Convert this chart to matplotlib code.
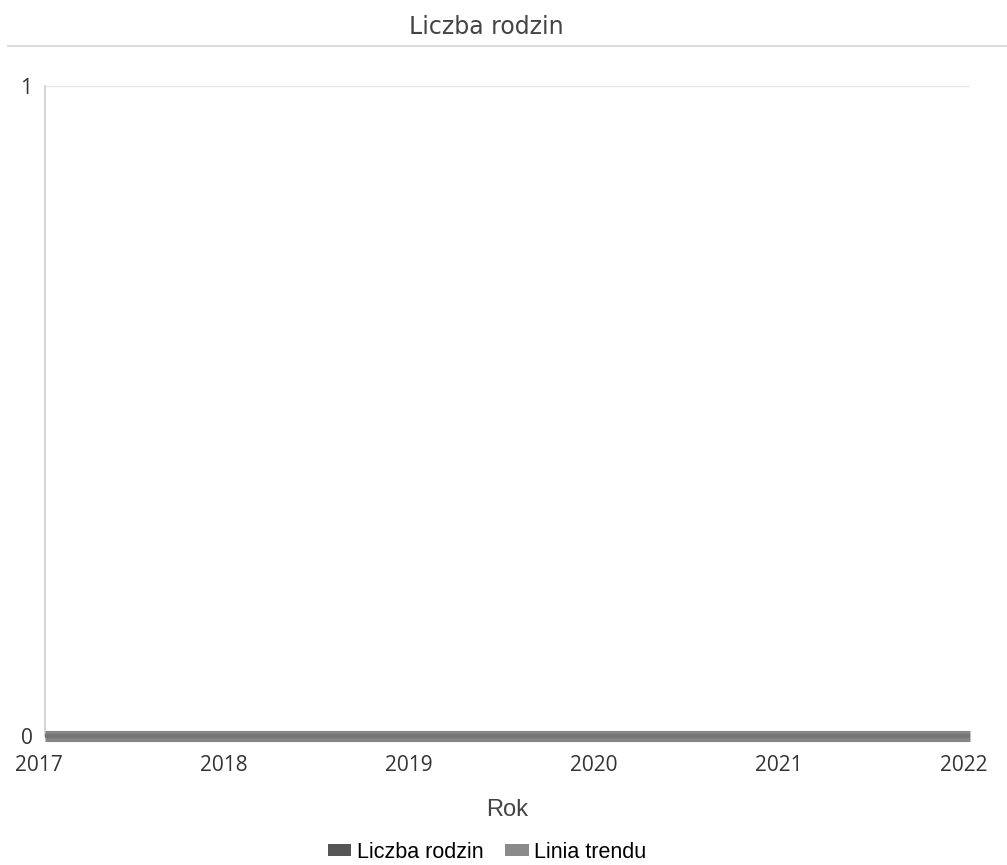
import matplotlib
matplotlib.use("Agg")
import matplotlib.pyplot as plt
from matplotlib.patches import Patch
from matplotlib.lines import Line2D
from matplotlib.transforms import ScaledTranslation

years = [2017, 2018, 2019, 2020, 2021, 2022]
liczba_rodzin = [0, 0, 0, 0, 0, 0]
linia_trendu = [0, 0, 0, 0, 0, 0]
y_ticks = [0, 1]

plt.rcParams['font.family'] = ['Open Sans', 'DejaVu Sans']

fig = plt.figure(figsize=(10.07, 8.65), dpi=100)
W, H = 1007, 865
ax = fig.add_axes([45 / W, (H - 736) / H, (970 - 45) / W, (736 - 86) / H])

ax.plot(years, linia_trendu, color='#858585', linewidth=8, solid_capstyle='butt', zorder=3, clip_on=False)
ax.plot(years, liczba_rodzin, color='#767676', linewidth=3, solid_capstyle='butt', zorder=4, clip_on=False)

ax.set_xlim(2017, 2022)
ax.set_ylim(0, 1)
ax.set_yticks(y_ticks)
ax.set_xticks(years)
ax.set_xticklabels([str(y) for y in years])
ax.grid(axis='y', color='#e6e6e6', linewidth=1)
ax.set_axisbelow(True)
for s in ['top', 'right', 'bottom']:
    ax.spines[s].set_visible(False)
ax.spines['left'].set_color('#d0d0d0')
ax.spines['left'].set_linewidth(1.2)
ax.tick_params(axis='both', length=0, labelsize=15, colors='#333333')
ax.tick_params(axis='y', pad=9)
ax.tick_params(axis='x', pad=14)
shift = ScaledTranslation(-6 / 100, 0, fig.dpi_scale_trans)
for lbl in ax.get_xticklabels():
    lbl.set_transform(lbl.get_transform() + shift)

ax.set_xlabel('Rok', fontsize=17, color='#444444', labelpad=16, family=['Liberation Sans', 'DejaVu Sans'])

fig.text(486 / W, 1 - 27 / H, 'Liczba rodzin', ha='center', va='center', fontsize=17,
         color='#444444', family=['DejaVu Sans'])
fig.add_artist(Line2D([8 / W, 1.0], [1 - 46 / H, 1 - 46 / H], color='#dddddd', linewidth=1.5))

handles = [Patch(facecolor='#555555', edgecolor='none', label='Liczba rodzin'),
           Patch(facecolor='#8a8a8a', edgecolor='none', label='Linia trendu')]
fig.legend(handles=handles, loc='center', bbox_to_anchor=(487 / W, 1 - 852 / H), ncol=2,
           frameon=False, handlelength=1.1, handleheight=0.5,
           handletextpad=0.25, columnspacing=1.0,
           prop={'family': ['Liberation Sans', 'DejaVu Sans'], 'size': 15.5})

fig.savefig('out.png', dpi=100, facecolor='white')
